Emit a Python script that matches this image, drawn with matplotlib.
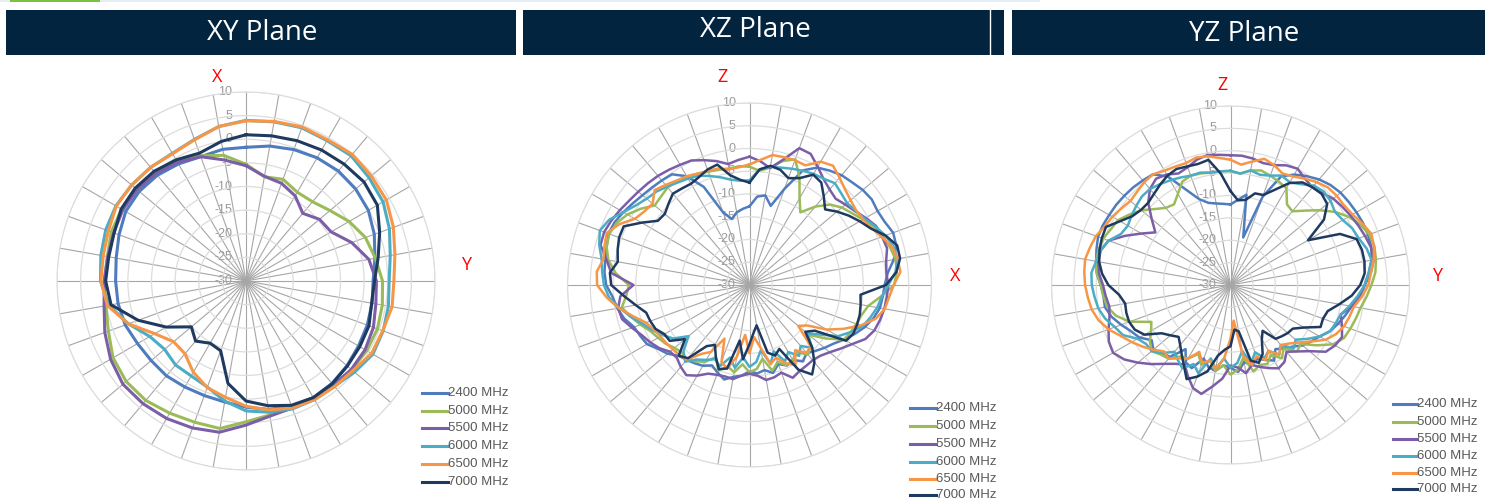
import matplotlib.pyplot as plt
import numpy as np
from matplotlib.patches import Rectangle
from matplotlib.lines import Line2D

W, H = 1485, 499

labels = ['2400 MHz', '5000 MHz', '5500 MHz', '6000 MHz', '6500 MHz', '7000 MHz']
colors = ['#4f7cbf', '#9bbb59', '#7b5ea7', '#4bacc6', '#f79646', '#1f3a60']

# ---- XY plane, one value every 10 degrees (dB)
xy_angles = np.arange(0, 360, 10)
xy_2400 = [-1.7, -1.0, -0.4, 0.1, 0.4, 0.3, -0.1, -1.1, -2.3, -3.1, -2.9, -2.7,
           -2.5, -2.1, -1.7, -1.5, -1.8, -2.4, -3.3, -4.0, -4.2, -4.1, -3.8, -3.8,
           -3.5, -2.8, -2.5, -2.4, -2.1, -1.4, -0.6, -0.5, -0.8, -1.4, -2.0, -1.7]
xy_5000 = [-5.3, -7.6, -7.1, -8.3, -8.1, -6.8, -4.8, -3.1, -2.2, -1.1, -0.7, -0.4,
           -0.5, -0.8, -1.3, -1.5, -1.4, -1.2, -0.2, 1.7, 1.8, 2.3, 3.0, 3.1,
           2.5, 1.0, 0.1, 0.0, -0.2, 0.35, 0.4, 0.1, 0.1, -0.8, -1.8, -3.0]
xy_5500 = [-5.6, -7.5, -8.0, -9.2, -11.3, -9.7, -9.2, -6.2, -3.6, -2.4, -2.1, -1.3,
           -0.9, -0.9, -1.2, -1.25, -1.4, -0.95, 0.5, 2.5, 3.1, 3.6, 3.9, 4.0,
           3.1, 1.8, 0.5, 0.0, -0.3, -0.2, 0.1, 0.1, -0.3, -1.0, -2.0, -4.0]
xy_6000 = [4.0, 4.2, 4.5, 4.3, 4.6, 4.0, 3.5, 2.3, 1.0, 0.3, 0.6, 0.9,
           1.0, 0.0, -0.9, -1.0, -1.2, -1.8, -2.5, -4.2, -6.1, -6.8, -6.8, -7.5,
           -6.5, -3.5, -0.5, 0.8, 1.2, 1.6, 1.8, 1.6, 1.4, 1.2, 1.9, 3.2]
xy_6500 = [3.9, 4.3, 4.7, 4.5, 5.0, 4.6, 4.3, 3.2, 2.0, 1.3, 1.4, 0.8,
           0.7, -0.5, -0.8, -1.0, -1.4, -2.3, -3.5, -5.0, -6.0, -7.7, -9.9, -10.0,
           -7.7, -3.5, -0.2, 0.7, 0.7, 1.0, 1.7, 1.6, 1.4, 1.1, 1.8, 3.2]
xy_7000 = [0.95, 1.2, 1.6, 2.0, 2.3, 2.6, 2.1, 0.1, -1.6, -2.8, -3.0, -2.3,
           -2.2, -2.0, -1.6, -1.5, -2.0, -3.2, -4.6, -8.0, -14.3, -14.8, -13.4, -14.9,
           -10.5, -5.7, -1.0, -0.3, -0.5, -0.3, 0.5, 0.6, 0.3, -0.4, -1.2, 0.0]

# ---- XZ plane, one value every 5 degrees (dB)
xz_angles = np.arange(0, 360, 5)
xz_2400 = [-12.7, -10.5, -10.0, -12.0, -7.5, -2.2, -0.2, 0.7, 1.5, 1.9,
           2.5, 2.8, 2.5, 2.8, 3.6, 3.4, 2.2, 0.5, -0.3, -0.6,
           -0.9, -1.8, -3.0, -4.5, -6.0, -7.5, -8.5, -9.5, -10.5, -9.5,
           -11.0, -10.5, -11.5, -10.0, -11.0, -10.5, -11.0, -10.0, -9.5, -8.5,
           -9.5, -10.5, -9.5, -9.0, -8.5, -8.0, -6.5, -5.5, -4.0, -3.5,
           -3.0, -1.5, -0.5, 0.2, 1.5, 2.0, 2.2, 2.5, 3.0, 2.7,
           2.0, 1.3, 0.7, 0.3, 0.0, -0.3, -2.4, -6.2, -13.0, -15.0,
           -13.8, -13.2]
xz_5000 = [-4.0, -4.8, -3.8, -1.8, -0.6, -4.0, -8.0, -10.5, -7.5, -5.0,
           -3.5, -2.5, -1.2, 0.2, 1.2, 2.0, 2.6, 2.5, 1.8, -1.0,
           -3.5, -4.5, -5.0, -5.5, -6.0, -9.5, -13.0, -11.0, -10.0, -12.0,
           -11.0, -10.5, -12.0, -10.5, -13.5, -11.5, -10.8, -12.5, -10.5, -11.5,
           -10.0, -12.5, -10.5, -9.5, -8.5, -9.0, -8.5, -7.5, -6.8, -6.0,
           -4.5, -3.0, -1.5, -2.8, -3.5, -0.5, 1.5, 2.5, 2.8, 2.2,
           1.0, -0.8, -2.8, -2.5, -2.0, -2.2, -2.5, -3.0, -3.5, -3.8,
           -4.0, -3.8]
xz_5500 = [-1.8, -2.7, -3.9, -1.5, 2.0, 1.8, 0.0, -1.6, -2.6, -3.2,
           -2.5, -1.7, -0.5, 0.7, 1.0, 1.3, 0.5, 0.2, 0.5, 0.3,
           0.1, -0.3, -0.8, -1.9, -4.0, -5.6, -7.0, -8.0, -8.4, -8.3,
           -8.1, -7.5, -9.5, -9.0, -8.8, -10.0, -10.5, -10.0, -9.0, -9.2,
           -9.0, -8.5, -7.0, -5.8, -6.5, -7.4, -7.2, -5.8, -4.8, -3.9,
           -2.5, -1.0, -0.7, -1.5, -4.5, 0.5, 1.9, 3.9, 4.0, 3.5,
           2.9, 2.3, 1.9, 1.6, 1.3, 0.9, 0.5, 0.2, -0.8, -1.8,
           -3.0, -2.4]
xz_6000 = [-7.0, -4.5, -3.6, -3.3, -2.8, -2.3, -1.8, -1.5, -0.8, -1.5,
           -2.0, -1.5, -0.8, 0.5, 1.8, 2.8, 3.0, 2.2, 0.5, -0.8,
           -1.5, -2.5, -3.5, -5.5, -7.5, -11.0, -13.5, -10.5, -12.5, -11.0,
           -13.0, -11.5, -14.5, -12.0, -15.5, -13.0, -12.0, -14.0, -11.5, -13.5,
           -11.0, -12.0, -11.0, -10.0, -8.0, -9.5, -12.5, -9.5, -8.0, -6.5,
           -5.0, -3.0, -1.0, 1.0, 2.0, 2.5, 3.0, 4.2, 5.0, 4.0,
           2.0, 0.5, -0.5, -1.0, -1.8, -2.5, -3.0, -3.5, -4.5, -5.5,
           -6.5, -7.0]
xz_6500 = [-3.5, -2.4, -1.0, -0.9, -0.8, -1.0, 1.3, 2.0, 0.8, -0.3,
           -1.0, -1.4, -1.2, -0.4, 0.9, 2.5, 3.0, 3.3, 1.7, 0.8,
           0.2, -1.3, -4.0, -7.2, -10.4, -14.5, -16.0, -11.0, -10.5, -12.5,
           -9.8, -11.0, -13.0, -12.0, -16.0, -18.5, -15.0, -19.0, -14.0, -11.0,
           -12.0, -17.0, -13.0, -11.5, -8.6, -8.2, -8.0, -7.7, -7.4, -6.8,
           -5.8, -3.5, -0.8, 1.5, 3.5, 3.7, 2.6, 3.0, 3.4, 1.6,
           -0.9, -1.8, -2.2, -0.5, -1.3, -2.0, -2.4, -3.0, -3.3, -3.5,
           -4.2, -4.0]
xz_7000 = [-7.5, -4.5, -3.4, -3.8, -5.0, -4.1, -2.0, -2.5, -4.6, -6.5,
           -4.9, -3.4, -2.0, -0.6, 1.8, 3.6, 3.6, 2.4, 0.0, -5.5,
           -5.2, -4.9, -4.8, -4.8, -5.5, -12.5, -14.0, -10.5, -7.8, -6.0,
           -8.5, -14.5, -13.5, -14.6, -21.0, -19.5, -17.0, -13.6, -17.6, -11.0,
           -10.3, -12.5, -14.8, -13.6, -9.0, -8.0, -11.5, -8.6, -8.4, -7.2,
           -6.8, -6.5, -4.6, -2.3, 0.4, 0.8, -0.6, 0.0, 0.5, 0.5,
           -2.6, -5.4, -5.7, -4.8, -3.8, -4.1, -4.3, -3.8, -3.0, -2.6,
           -5.5, -6.8]

# ---- YZ plane, one value every 5 degrees (dB)
yz_angles = np.arange(0, 360, 5)
yz_2400 = [-12.0, -10.9, -9.5, -19.0, -9.0, -3.2, -1.5, -0.3, 0.8, 1.6,
           2.1, 2.3, 2.5, 2.7, 2.7, 2.6, 2.0, 1.0, 0.0, -1.0,
           -2.5, -3.5, -4.5, -5.5, -7.0, -8.0, -9.0, -10.5, -11.5, -12.5,
           -10.5, -11.5, -12.5, -11.5, -12.5, -10.5, -11.5, -12.0, -10.5, -11.0,
           -12.5, -9.5, -10.0, -12.5, -9.0, -8.5, -7.5, -8.5, -6.5, -5.5,
           -4.0, -2.5, -1.5, -1.5, -1.0, 0.0, 0.5, 1.0, 1.5, 1.5,
           1.3, 1.2, 1.0, 0.8, 0.5, 0.2, -2.0, -6.5, -9.6, -11.0,
           -11.5, -11.8]
yz_5000 = [-4.5, -5.0, -4.0, -3.5, -4.0, -4.5, -5.0, -8.0, -8.5, -6.5,
           -4.0, -1.5, 0.5, 2.0, 3.0, 3.3, 3.0, 2.5, 1.5, 0.5,
           -0.5, -1.0, -1.5, -2.0, -3.5, -6.5, -9.5, -9.0, -11.5, -10.0,
           -12.0, -10.5, -11.0, -10.0, -13.5, -11.0, -10.0, -12.0, -10.5, -12.5,
           -11.0, -13.0, -11.0, -10.5, -8.5, -8.0, -7.0, -8.0, -9.5, -10.5,
           -6.0, -3.5, -2.0, -1.5, -1.0, 0.0, 0.5, 0.5, 0.3, -0.5,
           -1.0, -2.5, -4.0, -6.0, -7.5, -8.0, -6.5, -4.5, -4.0, -4.2,
           -4.5, -4.5]
yz_5500 = [-1.0, -1.0, -1.3, -1.8, -1.5, -0.5, 0.0, -1.0, -1.5, -1.0,
           0.0, 0.5, 1.0, 1.5, 2.0, 2.5, 2.5, 1.5, 0.0, -1.0,
           -2.5, -4.5, -3.5, -2.5, -3.0, -4.0, -7.0, -9.0, -10.5, -9.0,
           -8.5, -9.5, -10.5, -11.5, -10.0, -11.5, -12.0, -9.0, -7.0, -4.8,
           -5.5, -7.5, -9.5, -8.5, -7.0, -5.0, -3.0, -1.0, 0.3, 0.0,
           -1.0, -2.0, -2.5, -2.0, -1.5, -0.5, 0.0, 0.0, -1.0, -4.0,
           -7.0, -9.5, -7.0, -4.0, -2.0, -1.0, -1.5, -2.5, -2.0, -1.0,
           -0.5, -0.8]
yz_6000 = [-4.5, -5.0, -4.0, -4.5, -4.0, -3.0, -3.5, -2.5, -1.0, -0.5,
           -0.8, -1.5, -1.0, 0.0, 0.5, 1.5, 2.0, 1.0, 0.0, -1.5,
           -3.0, -4.5, -5.0, -5.5, -7.0, -9.0, -11.0, -10.0, -12.5, -11.0,
           -13.0, -12.0, -14.0, -12.0, -15.0, -12.5, -11.5, -13.5, -11.0, -13.0,
           -9.0, -10.5, -8.5, -9.5, -10.5, -8.5, -7.0, -7.0, -6.0, -3.5,
           -2.5, -1.0, 0.0, 0.5, 1.0, 1.2, 0.5, 0.0, -1.0, -3.0,
           -3.5, -3.0, -2.5, -2.0, -2.0, -2.5, -3.0, -3.5, -4.0, -4.0,
           -4.5, -4.5]
yz_6500 = [-2.0, -3.0, -2.0, -0.8, -1.5, -2.5, -2.0, -1.0, 0.0, 0.8,
           1.0, 1.0, 1.5, 2.5, 3.5, 3.2, 2.5, 1.5, 0.8, -0.5,
           -2.0, -2.5, -3.0, -4.0, -5.5, -8.0, -10.0, -11.5, -12.5, -11.0,
           -13.0, -11.5, -13.0, -11.5, -14.0, -22.0, -18.0, -13.5, -11.0, -12.5,
           -11.5, -13.5, -11.0, -10.0, -8.5, -9.0, -7.5, -6.0, -4.5, -3.0,
           -1.0, 0.5, 1.5, 2.0, 2.5, 2.8, 3.0, 2.5, 2.0, 1.0,
           0.5, -0.2, -0.8, -0.5, 0.0, 0.2, -0.5, -0.8, -1.0, -0.5,
           -0.8, -1.5]
yz_7000 = [-9.0, -11.0, -10.7, -8.8, -8.6, -6.5, -3.7, -2.0, -1.5, -1.2,
           -1.8, -4.5, -10.0, -3.0, 0.0, 0.4, 0.4, 0.1, -1.0, -2.8,
           -5.3, -7.5, -8.0, -7.8, -11.0, -13.0, -13.3, -13.8, -14.3, -17.5,
           -16.0, -13.0, -11.5, -12.5, -19.5, -20.0, -16.3, -15.5, -14.0, -10.0,
           -8.2, -6.8, -9.2, -11.0, -12.5, -13.6, -12.5, -11.2, -7.8, -6.4,
           -5.9, -5.9, -6.1, -5.0, -2.7, -1.2, -0.2, 0.3, 0.6, 0.7,
           -1.5, -3.2, -3.9, -4.0, -3.4, -2.6, -1.8, -1.4, -1.8, -2.0,
           -1.6, -5.0]

xy_data = [xy_2400, xy_5000, xy_5500, xy_6000, xy_6500, xy_7000]
xz_data = [xz_2400, xz_5000, xz_5500, xz_6000, xz_6500, xz_7000]
yz_data = [yz_2400, yz_5000, yz_5500, yz_6000, yz_6500, yz_7000]


def fx(px):
    return px / W


def fy(py):
    return 1 - py / H


fig = plt.figure(figsize=(W / 100, H / 100), dpi=100)


def radar(cx, cy, rad, angles, data, lw):
    ax = fig.add_axes([fx(cx - rad), fy(cy + rad), 2 * rad / W, 2 * rad / H],
                      projection='polar')
    ax.set_theta_zero_location('N')
    ax.set_theta_direction(-1)
    ax.set_ylim(-30, 10)
    ax.set_yticks(np.arange(-30, 11, 5))
    ax.set_yticklabels([])
    ax.set_xticks(np.deg2rad(np.arange(0, 360, 10)))
    ax.set_xticklabels([])
    ax.xaxis.grid(True, color='#a6a6a6', lw=0.8)
    ax.yaxis.grid(True, color='#dcdcdc', lw=0.9)
    ax.spines['polar'].set_color('#dcdcdc')
    ax.set_facecolor('none')
    for r in range(-30, 11, 5):
        ax.annotate(str(r), xy=(0, r), xytext=(-10, 0), textcoords='offset points',
                    ha='right', va='center', fontsize=9, color='#9a9a9a',
                    family='Liberation Sans', zorder=1)
    th = np.deg2rad(np.append(angles, angles[0]))
    for vals, c in zip(data, colors):
        ax.plot(th, np.append(vals, vals[0]), color=c, lw=lw, zorder=3)
    return ax


radar(246, 281, 189, xy_angles, xy_data, 2.2)
radar(749.5, 285, 182, xz_angles, xz_data, 1.8)
radar(1230.5, 285, 179, yz_angles, yz_data, 1.8)

# headers
navy = '#03243f'
fig.add_artist(Rectangle((fx(0), fy(2)), fx(1040), 2 / H, transform=fig.transFigure,
                         color='#e8edf1', lw=0))
fig.add_artist(Rectangle((fx(10), fy(1.5)), fx(90), 1.5 / H, transform=fig.transFigure,
                         color='#7ac143', lw=0))
for x0, x1, y0, y1 in [(6, 516, 10, 55), (523, 1004, 10, 55), (1012, 1485, 10, 55)]:
    fig.add_artist(Rectangle((fx(x0), fy(y1)), fx(x1 - x0), (y1 - y0) / H,
                             transform=fig.transFigure, color=navy, lw=0))
fig.add_artist(Line2D([fx(990), fx(990)], [fy(10), fy(55)], transform=fig.transFigure,
                      color='white', lw=1.0))
for tx, ty, txt in [(262, 33, 'XY Plane'), (755, 30, 'XZ Plane'), (1244, 34, 'YZ Plane')]:
    fig.text(fx(tx), fy(ty), txt, color='white', fontsize=20, family='Open Sans',
             ha='center', va='center')

# axis letters
for tx, ty, txt in [(217, 77, 'X'), (466, 265, 'Y'), (722, 77, 'Z'), (955, 276, 'X'),
                    (1222, 85, 'Z'), (1437, 276, 'Y')]:
    fig.text(fx(tx), fy(ty), txt, color='#ff0000', fontsize=13, family='Open Sans',
             ha='center', va='center')

# legends
legend_pos = [(422, 448, [393, 411, 428, 446, 464, 482]),
              (910, 936, [408, 426, 444, 462, 479, 495]),
              (1393, 1417, [404, 422, 439, 456, 473, 489])]
for x0, x1, ys in legend_pos:
    for lab, c, y in zip(labels, colors, ys):
        fig.add_artist(Line2D([fx(x0), fx(x1)], [fy(y), fy(y)], transform=fig.transFigure,
                              color=c, lw=2.2))
        fig.text(fx(x1), fy(y), lab, color='#595959', fontsize=9.5,
                 family='Liberation Sans', ha='left', va='center')

fig.savefig('out.png', dpi=100)
